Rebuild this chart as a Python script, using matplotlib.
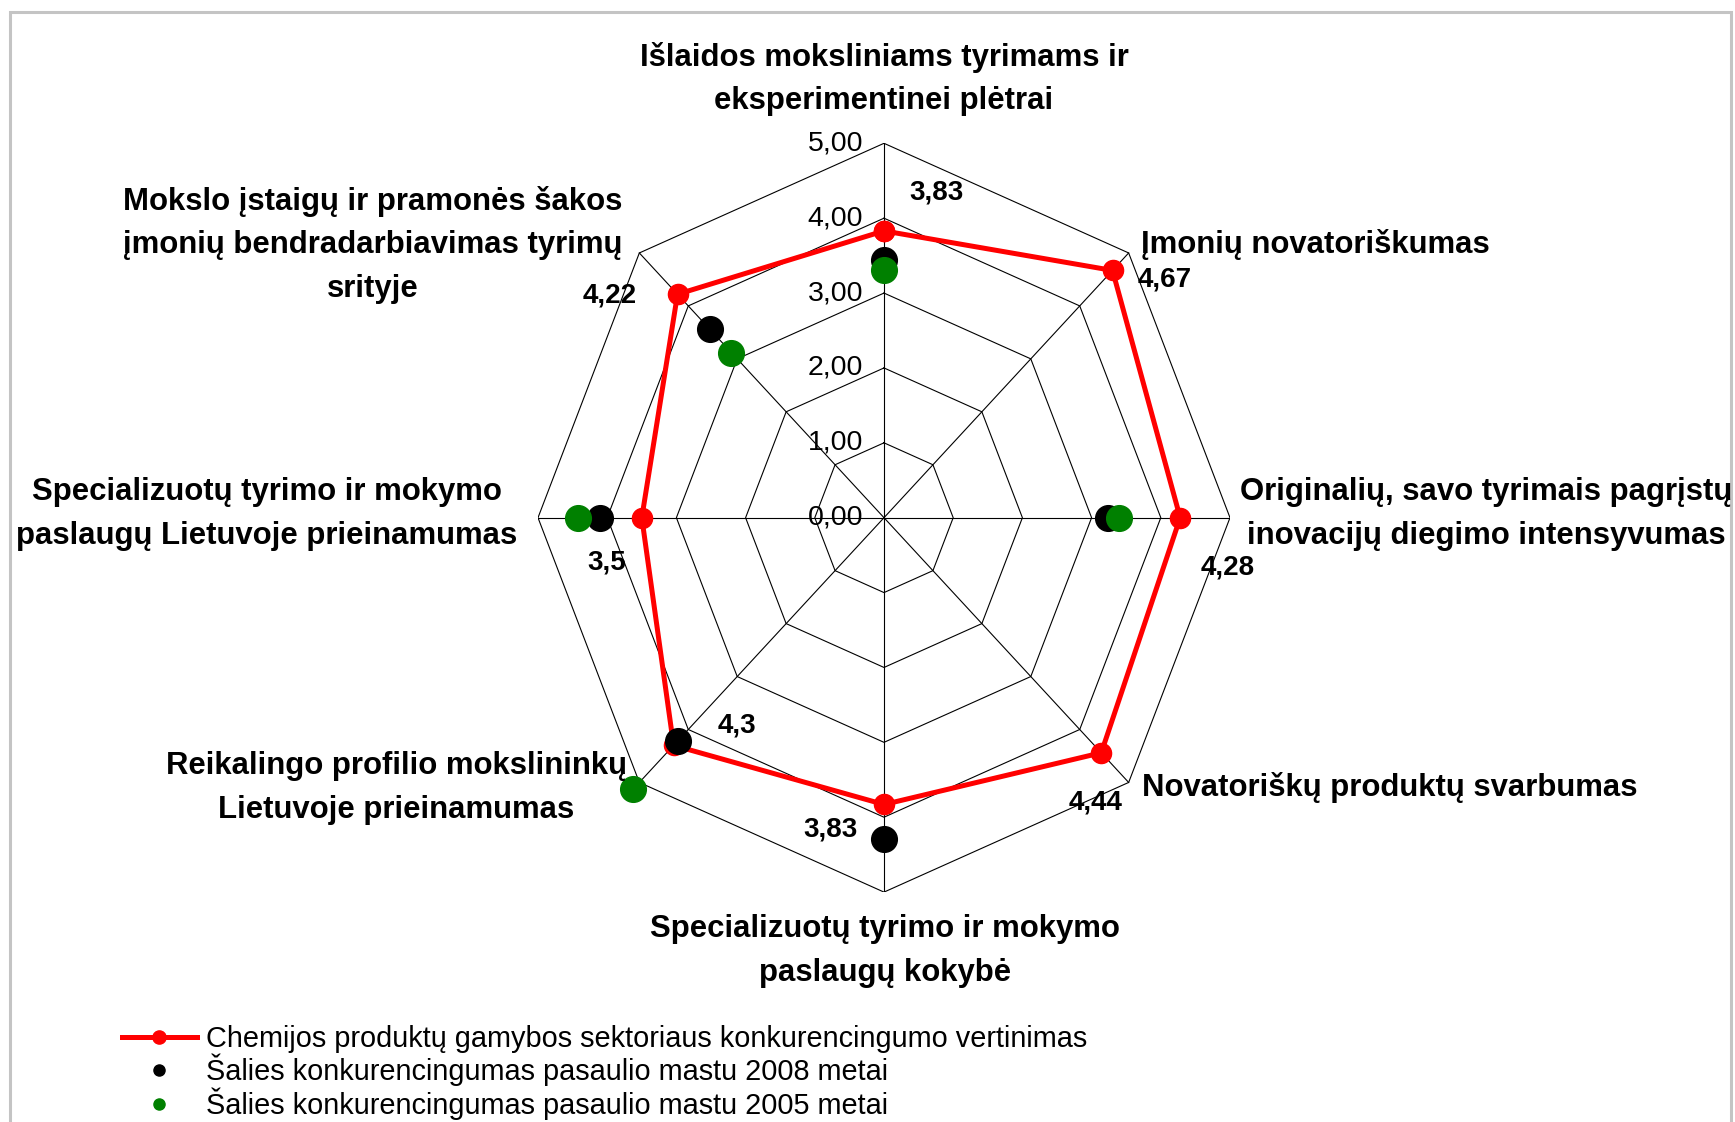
import numpy as np
import matplotlib
matplotlib.use("Agg")
import matplotlib.pyplot as plt
from matplotlib.lines import Line2D
from matplotlib.patches import Rectangle

# ---------------- data ----------------
categories = [
    "Išlaidos moksliniams tyrimams ir\neksperimentinei plėtrai",
    "Įmonių novatoriškumas",
    "Originalių, savo tyrimais pagrįstų\ninovacijų diegimo intensyvumas",
    "Novatoriškų produktų svarbumas",
    "Specializuotų tyrimo ir mokymo\npaslaugų kokybė",
    "Reikalingo profilio mokslininkų\nLietuvoje prieinamumas",
    "Specializuotų tyrimo ir mokymo\npaslaugų Lietuvoje prieinamumas",
    "Mokslo įstaigų ir pramonės šakos\nįmonių bendradarbiavimas tyrimų\nsrityje",
]
sector_values = [3.83, 4.67, 4.28, 4.44, 3.83, 4.3, 3.5, 4.22]
country_2008 = [3.44, np.nan, 3.24, np.nan, 4.29, 4.22, 4.11, 3.56]
country_2005 = [3.31, np.nan, 3.39, np.nan, np.nan, 5.13, 4.42, 3.12]
tick_values = [0, 1, 2, 3, 4, 5]
tick_labels = ["0,00", "1,00", "2,00", "3,00", "4,00", "5,00"]
series_names = [
    "Chemijos produktų gamybos sektoriaus konkurencingumo vertinimas",
    "Šalies konkurencingumas pasaulio mastu 2008 metai",
    "Šalies konkurencingumas pasaulio mastu 2005 metai",
]

# ---------------- figure ----------------
W, H = 1735, 1122
fig = plt.figure(figsize=(W / 100, H / 100), dpi=100)
FONT = "Liberation Sans"

# frame around chart area
fig.patches.append(Rectangle((10 / W, -0.05), (1731 - 10) / W, 1.05 - 12 / H,
                             transform=fig.transFigure, fill=False,
                             edgecolor="#c4c4c4", linewidth=2.2))

cx, cy, rx, ry = 884, 517.7, 346, 374.4
ax = fig.add_axes([(cx - rx) / W, (H - (cy + ry)) / H, 2 * rx / W, 2 * ry / H])
ax.set_xlim(-5, 5)
ax.set_ylim(-5, 5)
ax.axis("off")

n = len(categories)
theta = np.arange(n) * 2 * np.pi / n


def to_xy(vals):
    v = np.asarray(vals, dtype=float)
    return v * np.sin(theta), v * np.cos(theta)


# grid rings & spokes
th_closed = np.append(theta, theta[0])
for t in tick_values[1:]:
    ax.plot(t * np.sin(th_closed), t * np.cos(th_closed), color="black",
            lw=0.8, zorder=1)
rmax = tick_values[-1]
for th in theta:
    ax.plot([0, rmax * np.sin(th)], [0, rmax * np.cos(th)], color="black",
            lw=0.8, zorder=1)

# tick labels along the top spoke
for t, lab in zip(tick_values, tick_labels):
    ax.annotate(lab, (0, t), xytext=(-21, 0), textcoords="offset pixels",
                ha="right", va="center", fontsize=20.5, family=FONT,
                color="black", annotation_clip=False)

# series
xs, ys = to_xy(sector_values)
ax.plot(np.append(xs, xs[0]), np.append(ys, ys[0]), color="#ff0000", lw=3.6,
        marker="o", markersize=14.5, zorder=3, clip_on=False)
bx, by = to_xy(country_2008)
ax.plot(bx, by, ls="none", marker="o", markersize=18.5, color="black",
        zorder=4, clip_on=False)
gx, gy = to_xy(country_2005)
ax.plot(gx, gy, ls="none", marker="o", markersize=18.5, color="#008000",
        zorder=5, clip_on=False)

# data labels for the sector series (offsets in pixels)
label_offsets = [(25, 38), (25, -9), (20, -50), (-33, -50),
                 (-81, -25), (44, 20), (-54, -45), (-95, -1)]
for x, y, v, off in zip(xs, ys, sector_values, label_offsets):
    ax.annotate(f"{v:g}".replace(".", ","), (x, y), xytext=off,
                textcoords="offset pixels", ha="left", va="center",
                fontsize=20, fontweight="bold", family=FONT,
                annotation_clip=False, zorder=6)

# category labels (figure pixel positions: x, first-line y, alignment)
cat_pos = [(884, 57.5, "center"), (1141, 244.5, "left"), (1486, 492.4, "center"),
           (1142, 787.8, "left"), (885, 929.5, "center"), (396, 765.7, "center"),
           (267, 492.4, "center"), (373, 201.4, "center")]
line_pitch = 44
for lab, (px, py, ha) in zip(categories, cat_pos):
    for k, line in enumerate(lab.split("\n")):
        fig.text(px / W, 1 - (py + k * line_pitch) / H, line, ha=ha, va="center",
                 fontsize=22.4, fontweight="bold", family=FONT)

# legend
handles = [
    Line2D([], [], color="#ff0000", lw=3.6, marker="o", markersize=9.5),
    Line2D([], [], ls="none", marker="o", markersize=8, color="black"),
    Line2D([], [], ls="none", marker="o", markersize=8, color="#008000"),
]
fig.legend(handles, series_names, loc="upper left",
           bbox_to_anchor=(122 / W, 1 - 1025 / H), frameon=False,
           borderpad=0, borderaxespad=0, handlelength=2.6, handletextpad=0.3,
           labelspacing=0.03, prop={"family": FONT, "size": 20.75})

fig.savefig("out.png", dpi=100)
